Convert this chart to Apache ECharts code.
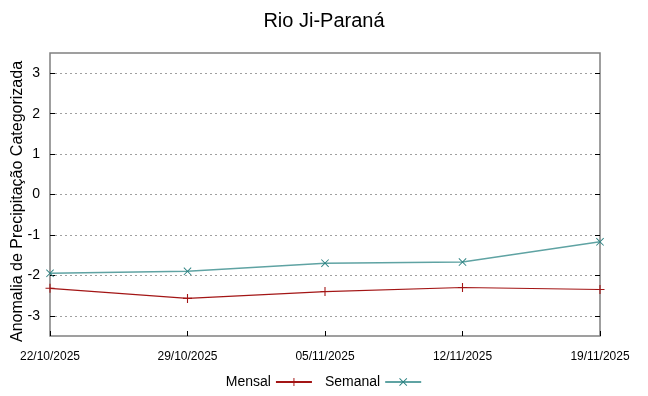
<!DOCTYPE html>
<html><head><meta charset="utf-8">
<script src="https://cdn.jsdelivr.net/npm/echarts@6/dist/echarts.min.js"></script>
<style>html,body{margin:0;padding:0;background:#fff}#c{width:648px;height:396px}</style>
</head><body><div id="c"></div>
<script>
const categories = ['22/10/2025','29/10/2025','05/11/2025','12/11/2025','19/11/2025'];
const mensal = [-2.32, -2.57, -2.40, -2.30, -2.35];
const semanal = [-1.95, -1.90, -1.70, -1.67, -1.17];
const yTicks = [-3,-2,-1,0,1,2,3];

const plusPath = 'path://M0,4.4h10v1.2h-10z M4.4,0h1.2v10h-1.2z';
const xPath = 'path://M0,0.8 L0.8,0 L10,9.2 L9.2,10 Z M9.2,0 L10,0.8 L0.8,10 L0,9.2 Z';

const chart = echarts.init(document.getElementById('c'));
chart.setOption({
  animation: false,
  title: {text: 'Rio Ji-Paraná', left: 'center', top: 6,
    textStyle: {fontFamily: 'Liberation Sans', fontSize: 20, fontWeight: 'normal', color: '#000'}},
  grid: {left: 50, right: 48, top: 53, bottom: 60, show: true, borderColor: '#808080', borderWidth: 1.5,
    backgroundColor: 'transparent', containLabel: false, outerBoundsMode: 'none'},
  legend: {bottom: 2, left: 'center', align: 'right', itemWidth: 36, itemHeight: 10, itemGap: 12,
    textStyle: {fontFamily: 'Liberation Sans', fontSize: 14, color: '#000'},
    data: ['Mensal','Semanal']},
  xAxis: {type: 'category', data: categories, boundaryGap: false,
    axisLine: {show: false, onZero: false},
    axisTick: {show: true, inside: true, length: 5, lineStyle: {color: '#000'}},
    axisLabel: {fontFamily: 'Liberation Sans', fontSize: 12, color: '#000', margin: 15, showMinLabel: true, showMaxLabel: true, interval: 0},
    splitLine: {show: false}},
  yAxis: [{type: 'value', min: -3.5, max: 3.5,
    name: 'Anomalia de Precipitação Categorizada', nameLocation: 'middle', nameGap: 32, nameRotate: 90,
    nameMoveOverlap: false,
    nameTextStyle: {fontFamily: 'Liberation Sans', fontSize: 16, color: '#000', verticalAlign: 'middle', padding: [0, 14, 0, 0]},
    axisLine: {show: false},
    axisTick: {show: true, inside: true, length: 5, customValues: yTicks, lineStyle: {color: '#000'}},
    axisLabel: {customValues: yTicks, fontFamily: 'Liberation Sans', fontSize: 14, color: '#000', margin: 10},
    splitLine: {show: true, lineStyle: {color: '#a0a0a0', type: [2, 3], width: 1}}},
   {type: 'value', min: -3.5, max: 3.5, position: 'right',
    axisLine: {show: false},
    axisTick: {show: true, inside: true, length: 5, customValues: yTicks, lineStyle: {color: '#000'}},
    axisLabel: {show: false, customValues: yTicks},
    splitLine: {show: false}}],
  series: [
    {name: 'Mensal', type: 'line', data: mensal, symbol: plusPath, symbolSize: 9, showSymbol: true,
      lineStyle: {color: '#a31515', width: 1.2}, itemStyle: {color: '#a31515'}},
    {name: 'Semanal', type: 'line', data: semanal, symbol: xPath, symbolSize: 8, showSymbol: true,
      lineStyle: {color: '#5fa3a3', width: 1.5}, itemStyle: {color: '#2a8080'}}
  ]
});
</script></body></html>
